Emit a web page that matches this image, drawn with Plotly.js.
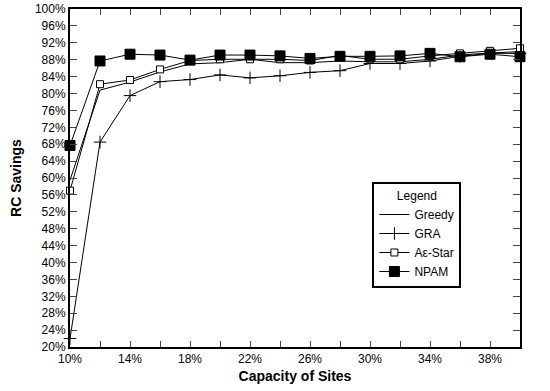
<!DOCTYPE html>
<html><head><meta charset="utf-8">
<script src="https://cdn.plot.ly/plotly-3.0.1.min.js"></script>
<style>html,body{margin:0;padding:0;background:#fff}#c{width:550px;height:391px}</style>
</head><body><div id="c"></div>
<script>
const capacity = [10,12,14,16,18,20,22,24,26,28,30,32,34,36,38,40];
const greedy = [59.5,80.8,82.7,85.1,87.0,87.3,88.1,87.3,87.3,87.7,87.5,87.5,88.1,89.1,89.6,89.9];
const gra    = [22.0,68.5,79.5,82.8,83.3,84.4,83.7,84.2,85.0,85.4,87.1,87.1,87.7,88.8,89.5,89.5];
const astar  = [57.0,82.2,83.2,85.7,87.8,88.1,88.1,88.1,87.8,89.0,88.1,88.1,88.9,89.5,90.1,90.7];
const npam   = [67.7,87.7,89.3,89.1,87.9,89.1,89.1,88.9,88.3,88.8,88.8,88.9,89.5,88.7,89.3,88.7];
const yTicks = [20,24,28,32,36,40,44,48,52,56,60,64,68,72,76,80,84,88,92,96,100];
const xTicks = [10,14,18,22,26,30,34,38];

const traces = [
  {x:capacity,y:greedy,name:'Greedy',mode:'lines',line:{color:'#000',width:1},cliponaxis:false},
  {x:capacity,y:gra,name:'GRA',mode:'lines+markers',line:{color:'#000',width:1},
   marker:{symbol:'cross-thin',size:9,color:'#000',line:{color:'#000',width:1}},cliponaxis:false},
  {x:capacity,y:astar,name:'A\u03b5-Star',mode:'lines+markers',line:{color:'#000',width:1},
   marker:{symbol:'square',size:7,color:'#fff',line:{color:'#000',width:1}},cliponaxis:false},
  {x:capacity,y:npam,name:'NPAM',mode:'lines+markers',line:{color:'#000',width:1},
   marker:{symbol:'square',size:10,color:'#000',line:{color:'#000',width:1}},cliponaxis:false}
];
const font = {family:'Liberation Sans, Arial, sans-serif',color:'#000'};
const layout = {
  width:550,height:391,
  margin:{l:70,r:30,t:9,b:44},
  paper_bgcolor:'#fff',plot_bgcolor:'#fff',
  font:Object.assign({size:12},font),
  showlegend:true,
  legend:{x:0.672,y:0.487,xanchor:'left',yanchor:'top',bgcolor:'#fff',bordercolor:'#000',borderwidth:2,
    font:Object.assign({size:12},font),title:{text:'Legend',side:'top center',font:Object.assign({size:12},font)},
    tracegroupgap:0,itemwidth:30,entrywidth:60},
  xaxis:{range:[10,40],tickvals:xTicks,ticktext:xTicks.map(v=>v+'%'),ticks:'inside',ticklen:6,tickwidth:1,
    minor:{dtick:2,tick0:10,ticks:'inside',ticklen:6,tickwidth:1,showgrid:false},
    showline:true,linewidth:2,linecolor:'#000',mirror:'ticks',showgrid:false,zeroline:false,
    tickfont:Object.assign({size:12},font),
    title:{text:'<b>Capacity of Sites</b>',font:Object.assign({size:14},font),standoff:6}},
  yaxis:{range:[20,100],tickvals:yTicks,ticktext:yTicks.map(v=>v+'%'),ticks:'inside',ticklen:7,tickwidth:1,
    showline:true,linewidth:2,linecolor:'#000',mirror:'ticks',showgrid:false,zeroline:false,
    tickfont:Object.assign({size:12},font),
    title:{text:'<b>RC Savings</b>',font:Object.assign({size:14},font),standoff:10}}
};
Plotly.newPlot('c',traces,layout,{displayModeBar:false,staticPlot:true});
</script></body></html>
